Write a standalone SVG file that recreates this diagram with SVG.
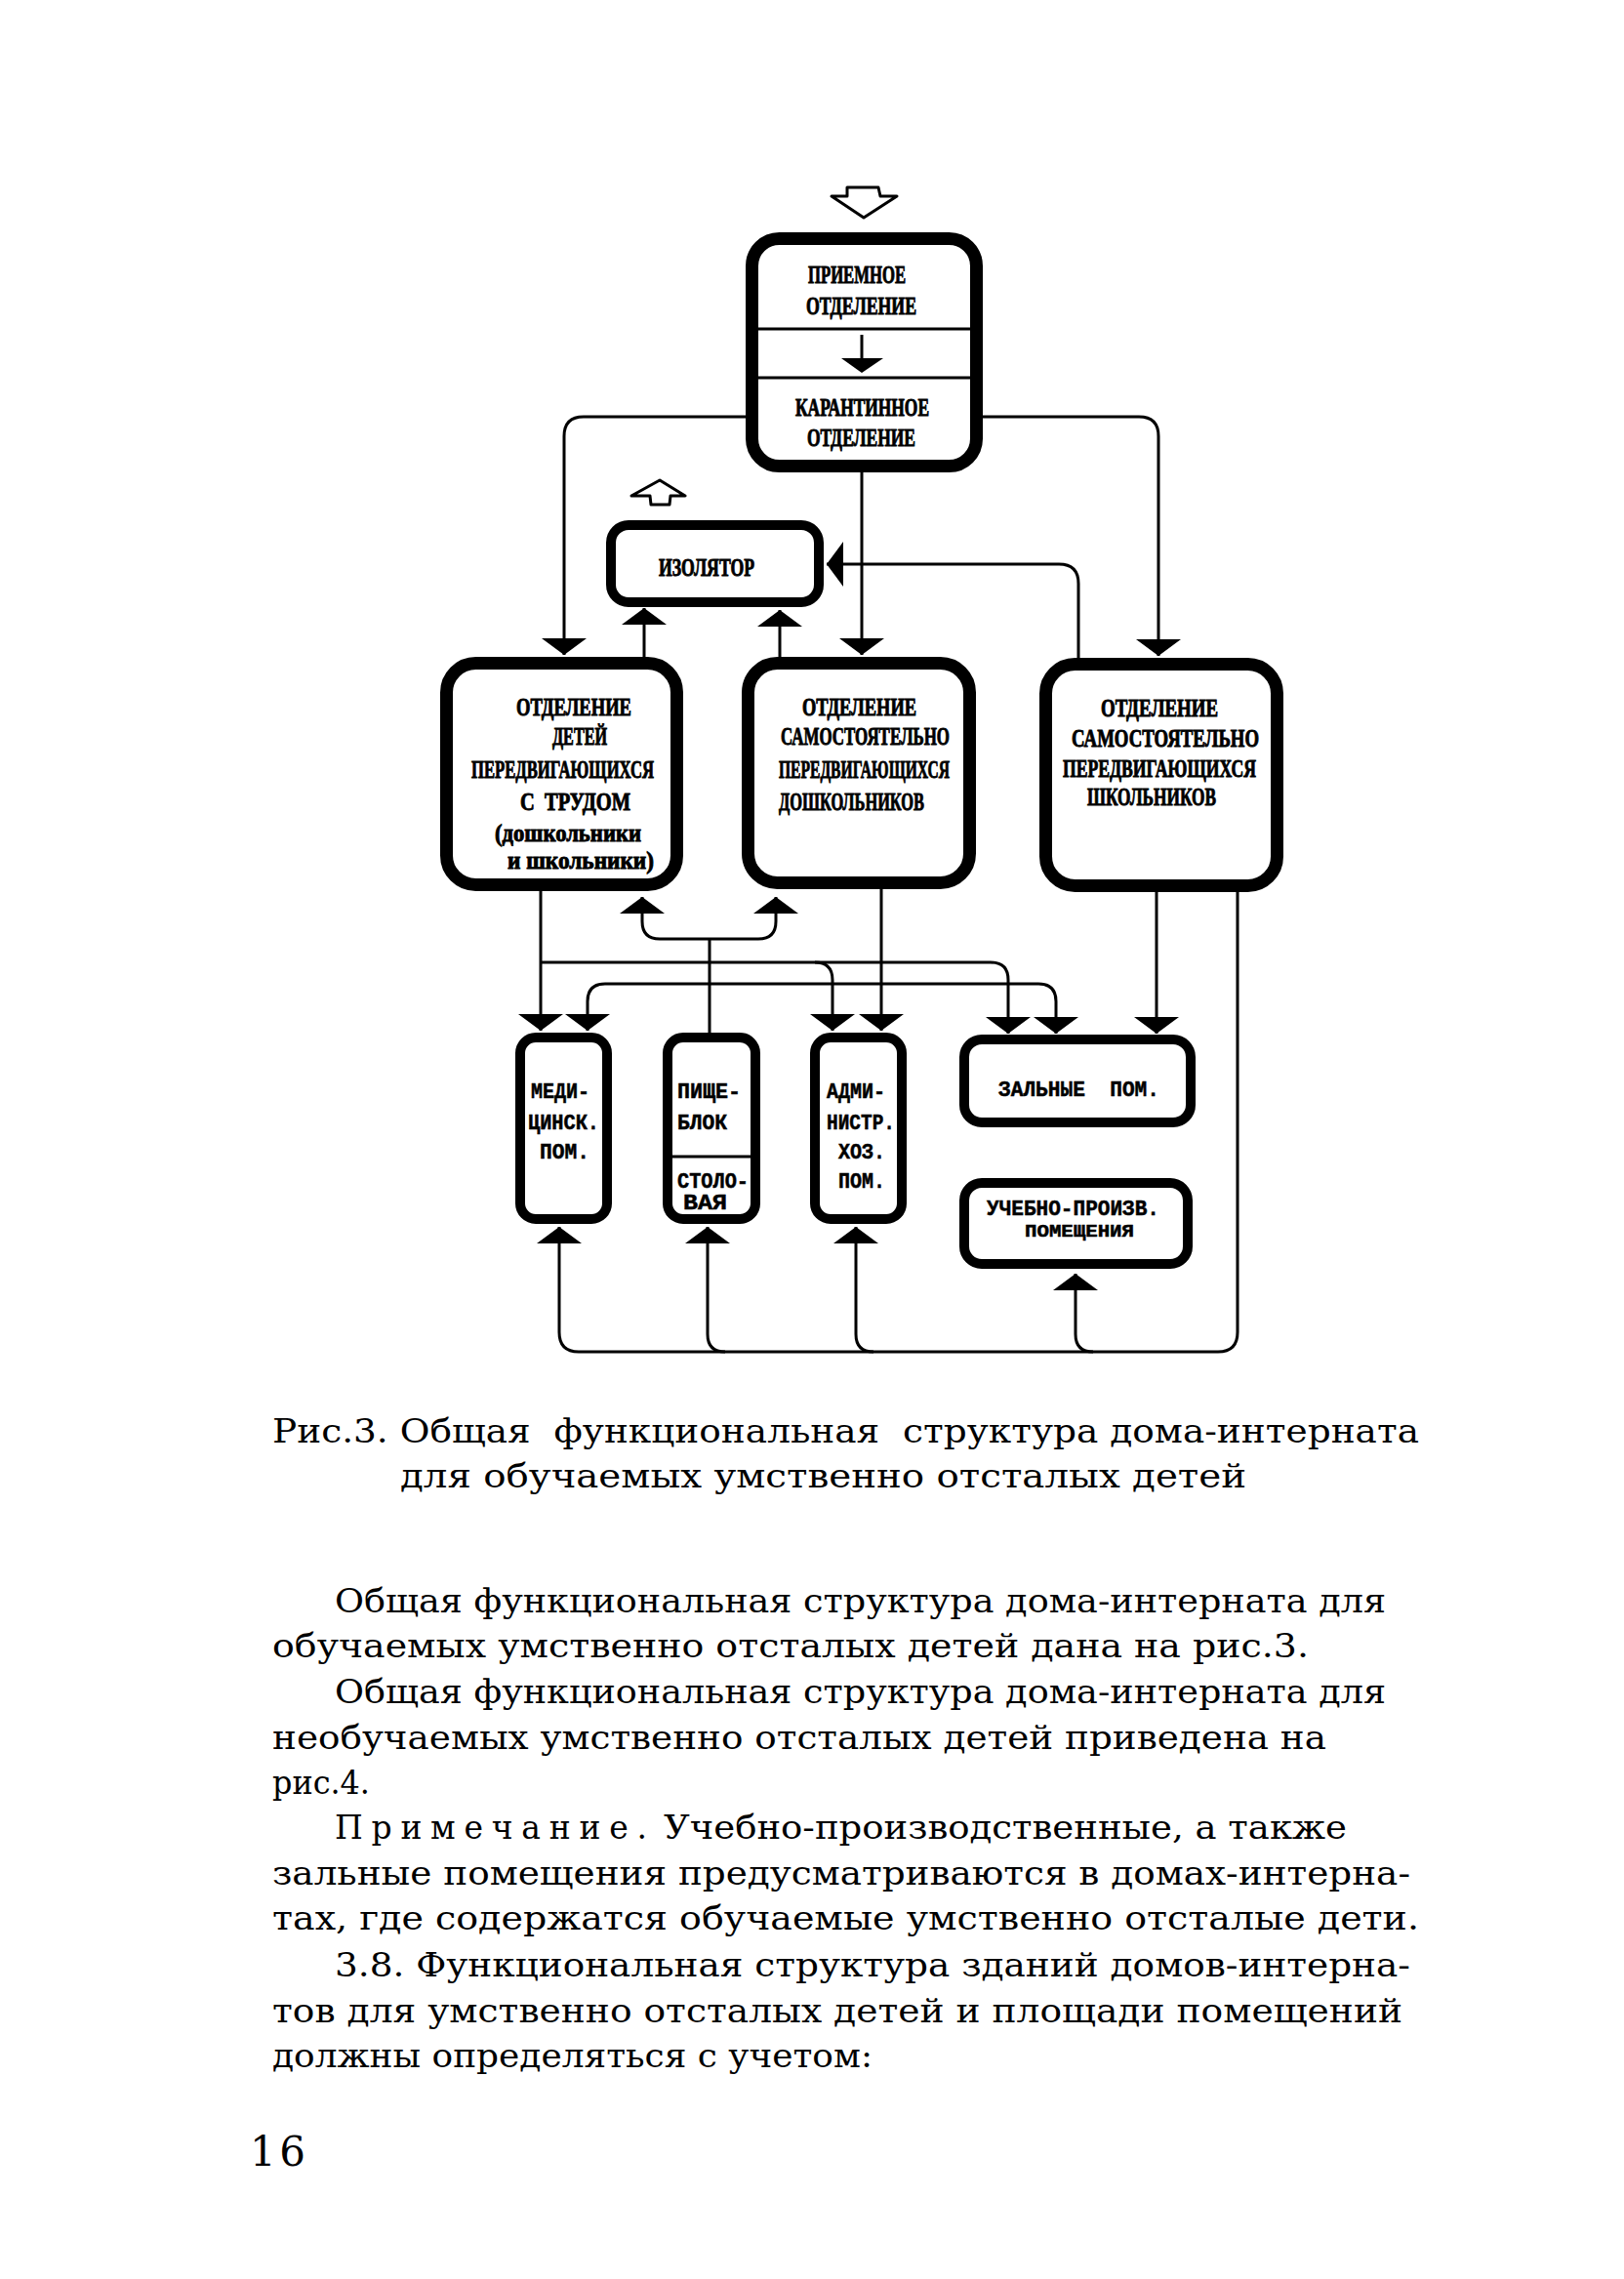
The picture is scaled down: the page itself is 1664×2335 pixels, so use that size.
<svg xmlns="http://www.w3.org/2000/svg" width="1664" height="2335" viewBox="0 0 1664 2335">
<style>
.bg{fill:#fff}
.bx{fill:#fff;stroke:#000}
.thick{stroke-width:13}
.mid{stroke-width:10}
.cn{fill:none;stroke:#000;stroke-width:3}
.div{stroke:#000;stroke-width:3}
.open{fill:#fff;stroke:#000;stroke-width:3;stroke-linejoin:round}
.t1{font-family:"Liberation Serif","DejaVu Serif",serif;font-weight:bold;font-size:25px;fill:#000;stroke:#000;stroke-width:0.9}
.t2{font-family:"Liberation Mono","DejaVu Sans Mono",monospace;font-weight:bold;font-size:22px;fill:#000;stroke:#000;stroke-width:0.5}
.body{font-family:"DejaVu Serif","Liberation Serif",serif;font-size:33px;fill:#000}
</style>
<defs>
<marker id="ah" markerUnits="userSpaceOnUse" viewBox="0 -24 18 48" refX="17" refY="0" markerWidth="18" markerHeight="48" orient="auto-start-reverse">
<path d="M0,-23 L17,0 L0,23 Z" fill="#000"/>
</marker>
</defs>
<rect class="bg" x="0" y="0" width="1664" height="2335"/>

<g id="connectors">
<path class="cn" d="M764,427 H598 Q578,427 578,447 V671" marker-end="url(#ah)"/>
<path class="cn" d="M1007,427 H1167 Q1187,427 1187,447 V672" marker-end="url(#ah)"/>
<path class="cn" d="M883,484 V671" marker-end="url(#ah)"/>
<path class="cn" d="M1105,674 V598 Q1105,578 1085,578 H847" marker-end="url(#ah)"/>
<path class="cn" d="M660,673 V623" marker-end="url(#ah)"/>
<path class="cn" d="M799,673 V625" marker-end="url(#ah)"/>
<path class="cn" d="M727,1058 V962"/>
<path class="cn" d="M658,919 V944 Q658,962 676,962 H777 Q795,962 795,944 V919" marker-start="url(#ah)" marker-end="url(#ah)"/>
<path class="cn" d="M554,913 V1056" marker-end="url(#ah)"/>
<path class="cn" d="M554,986 H1015 Q1033,986 1033,1004 V1059" marker-end="url(#ah)"/>
<path class="cn" d="M835,986 Q853,986 853,1004 V1056" marker-end="url(#ah)"/>
<path class="cn" d="M903,911 V1056" marker-end="url(#ah)"/>
<path class="cn" d="M602,1056 V1026 Q602,1008 620,1008 H1064 Q1082,1008 1082,1026 V1059" marker-start="url(#ah)" marker-end="url(#ah)"/>
<path class="cn" d="M1185,914 V1059" marker-end="url(#ah)"/>
<path class="cn" d="M1268,914 V1365 Q1268,1385 1248,1385 H593 Q573,1385 573,1365 V1257" marker-end="url(#ah)"/>
<path class="cn" d="M725,1257 V1367 Q725,1385 743,1385" marker-start="url(#ah)"/>
<path class="cn" d="M877,1257 V1367 Q877,1385 895,1385" marker-start="url(#ah)"/>
<path class="cn" d="M1102,1305 V1367 Q1102,1385 1120,1385" marker-start="url(#ah)"/>
</g>

<g id="entry-arrow">
<polygon class="open" points="868,192 900,192 902,201 919,201 885,223 852,201 868,201"/>
</g>

<g id="node-priemnoe">
<rect class="bx thick" x="770.5" y="244.5" width="230" height="233" rx="28"/>
<line class="div" x1="770" y1="337" x2="1001" y2="337"/>
<line class="div" x1="770" y1="387" x2="1001" y2="387"/>
<line class="div" x1="883" y1="343" x2="883" y2="368"/>
<polygon points="862,367 905,367 883,382" fill="#000"/>
<text class="t1" x="828" y="290" textLength="100" lengthAdjust="spacingAndGlyphs">ПРИЕМНОЕ</text>
<text class="t1" x="826" y="322" textLength="113" lengthAdjust="spacingAndGlyphs">ОТДЕЛЕНИЕ</text>
<text class="t1" x="815" y="426" textLength="137" lengthAdjust="spacingAndGlyphs">КАРАНТИННОЕ</text>
<text class="t1" x="827" y="457" textLength="111" lengthAdjust="spacingAndGlyphs">ОТДЕЛЕНИЕ</text>
</g>

<g id="node-izolyator">
<polygon class="open" points="676,492 702,508 687,508 686,517 667,517 666,508 647,508"/>
<rect class="bx mid" x="626" y="538" width="213" height="79" rx="18"/>
<text class="t1" x="675" y="590" textLength="98" lengthAdjust="spacingAndGlyphs">ИЗОЛЯТОР</text>
</g>

<g id="node-trudom">
<rect class="bx thick" x="457.5" y="679.5" width="236" height="227" rx="30"/>
<text class="t1" x="529" y="733" textLength="118" lengthAdjust="spacingAndGlyphs">ОТДЕЛЕНИЕ</text>
<text class="t1" x="566" y="763" textLength="56" lengthAdjust="spacingAndGlyphs">ДЕТЕЙ</text>
<text class="t1" x="483" y="797" textLength="187" lengthAdjust="spacingAndGlyphs">ПЕРЕДВИГАЮЩИХСЯ</text>
<text class="t1" x="533" y="830" textLength="113" lengthAdjust="spacingAndGlyphs" xml:space="preserve">С  ТРУДОМ</text>
<text class="t1" x="507" y="862" textLength="150" lengthAdjust="spacingAndGlyphs">(дошкольники</text>
<text class="t1" x="520" y="890" textLength="150" lengthAdjust="spacingAndGlyphs">и школьники)</text>
</g>

<g id="node-doshkolniki">
<rect class="bx thick" x="766.5" y="679.5" width="227" height="225" rx="30"/>
<text class="t1" x="822" y="733" textLength="117" lengthAdjust="spacingAndGlyphs">ОТДЕЛЕНИЕ</text>
<text class="t1" x="800" y="763" textLength="173" lengthAdjust="spacingAndGlyphs">САМОСТОЯТЕЛЬНО</text>
<text class="t1" x="798" y="797" textLength="175" lengthAdjust="spacingAndGlyphs">ПЕРЕДВИГАЮЩИХСЯ</text>
<text class="t1" x="798" y="830" textLength="149" lengthAdjust="spacingAndGlyphs">ДОШКОЛЬНИКОВ</text>
</g>

<g id="node-shkolniki">
<rect class="bx thick" x="1071.5" y="680.5" width="237" height="227" rx="30"/>
<text class="t1" x="1128" y="734" textLength="120" lengthAdjust="spacingAndGlyphs">ОТДЕЛЕНИЕ</text>
<text class="t1" x="1098" y="765" textLength="192" lengthAdjust="spacingAndGlyphs">САМОСТОЯТЕЛЬНО</text>
<text class="t1" x="1089" y="796" textLength="198" lengthAdjust="spacingAndGlyphs">ПЕРЕДВИГАЮЩИХСЯ</text>
<text class="t1" x="1114" y="825" textLength="132" lengthAdjust="spacingAndGlyphs">ШКОЛЬНИКОВ</text>
</g>

<g id="node-medic">
<rect class="bx mid" x="533" y="1063" width="89" height="186" rx="16"/>
<text class="t2" x="544" y="1125" textLength="60" lengthAdjust="spacingAndGlyphs">МЕДИ-</text>
<text class="t2" x="541" y="1157" textLength="73" lengthAdjust="spacingAndGlyphs">ЦИНСК.</text>
<text class="t2" x="553" y="1187" textLength="51" lengthAdjust="spacingAndGlyphs">ПОМ.</text>
</g>

<g id="node-pishcheblok">
<rect class="bx mid" x="684" y="1063" width="90" height="186" rx="16"/>
<line class="div" x1="684" y1="1185" x2="774" y2="1185"/>
<text class="t2" x="694" y="1125" textLength="65" lengthAdjust="spacingAndGlyphs">ПИЩЕ-</text>
<text class="t2" x="694" y="1157" textLength="51" lengthAdjust="spacingAndGlyphs">БЛОК</text>
<text class="t2" x="694" y="1217" textLength="73" lengthAdjust="spacingAndGlyphs">СТОЛО-</text>
<text class="t2" x="700" y="1239" textLength="45" lengthAdjust="spacingAndGlyphs">ВАЯ</text>
</g>

<g id="node-admin">
<rect class="bx mid" x="835" y="1063" width="89" height="186" rx="16"/>
<text class="t2" x="847" y="1125" textLength="60" lengthAdjust="spacingAndGlyphs">АДМИ-</text>
<text class="t2" x="847" y="1157" textLength="70" lengthAdjust="spacingAndGlyphs">НИСТР.</text>
<text class="t2" x="859" y="1187" textLength="48" lengthAdjust="spacingAndGlyphs">ХОЗ.</text>
<text class="t2" x="859" y="1217" textLength="48" lengthAdjust="spacingAndGlyphs">ПОМ.</text>
</g>

<g id="node-zalnye">
<rect class="bx mid" x="988" y="1065" width="232" height="85" rx="18"/>
<text class="t2" x="1023" y="1123" textLength="165" lengthAdjust="spacingAndGlyphs" xml:space="preserve">ЗАЛЬНЫЕ  ПОМ.</text>
</g>

<g id="node-uchebno">
<rect class="bx mid" x="988" y="1212" width="229" height="83" rx="18"/>
<text class="t2" x="1011" y="1245" textLength="177" lengthAdjust="spacingAndGlyphs">УЧЕБНО-ПРОИЗВ.</text>
<text class="t2" x="1050" y="1267" textLength="112" lengthAdjust="spacingAndGlyphs" style="font-size:18px">ПОМЕЩЕНИЯ</text>
</g>

<g id="caption">
<text class="body" x="279" y="1478" textLength="1175" lengthAdjust="spacingAndGlyphs" xml:space="preserve">Рис.3. Общая  функциональная  структура дома-интерната</text>
<text class="body" x="410" y="1524" textLength="867" lengthAdjust="spacingAndGlyphs">для обучаемых умственно отсталых детей</text>
</g>

<g id="page-text">
<text class="body" x="343" y="1652" textLength="1077" lengthAdjust="spacingAndGlyphs">Общая функциональная структура дома-интерната для</text>
<text class="body" x="279" y="1698" textLength="1062" lengthAdjust="spacingAndGlyphs">обучаемых умственно отсталых детей дана на рис.3.</text>
<text class="body" x="343" y="1745" textLength="1077" lengthAdjust="spacingAndGlyphs">Общая функциональная структура дома-интерната для</text>
<text class="body" x="279" y="1792" textLength="1080" lengthAdjust="spacingAndGlyphs">необучаемых умственно отсталых детей приведена на</text>
<text class="body" x="279" y="1838" textLength="100" lengthAdjust="spacingAndGlyphs">рис.4.</text>
<text class="body" x="343" y="1884" textLength="320" lengthAdjust="spacing">Примечание.</text>
<text class="body" x="680" y="1884" textLength="700" lengthAdjust="spacingAndGlyphs">Учебно-производственные, а также</text>
<text class="body" x="279" y="1931" textLength="1166" lengthAdjust="spacingAndGlyphs">зальные помещения предусматриваются в домах-интерна-</text>
<text class="body" x="279" y="1977" textLength="1175" lengthAdjust="spacingAndGlyphs">тах, где содержатся обучаемые умственно отсталые дети.</text>
<text class="body" x="343" y="2025" textLength="1102" lengthAdjust="spacingAndGlyphs">3.8. Функциональная структура зданий домов-интерна-</text>
<text class="body" x="279" y="2072" textLength="1158" lengthAdjust="spacingAndGlyphs">тов для умственно отсталых детей и площади помещений</text>
<text class="body" x="279" y="2118" textLength="615" lengthAdjust="spacingAndGlyphs">должны определяться с учетом:</text>
<text class="body" x="256" y="2219" textLength="57" lengthAdjust="spacing" style="font-size:42px">16</text>
</g>
</svg>
